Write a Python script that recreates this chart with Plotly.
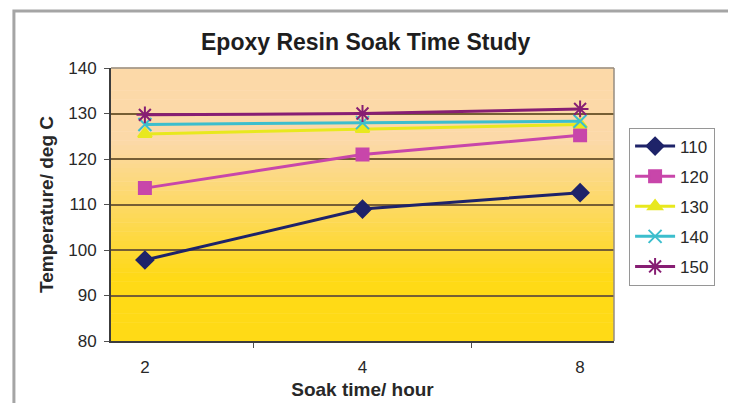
import plotly.graph_objects as go

# soak time categories (hours)
soak_time = ["2", "4", "8"]

# temperature reached for each oven setting (deg C)
temp_110 = [97.8, 109.0, 112.6]
temp_120 = [113.6, 121.0, 125.2]
temp_130 = [125.5, 126.6, 127.6]
temp_140 = [127.6, 128.0, 128.3]
temp_150 = [129.7, 130.0, 131.0]

series_names = ["110", "120", "130", "140", "150"]
series_values = [temp_110, temp_120, temp_130, temp_140, temp_150]

colors = ["rgb(30,35,105)", "rgb(200,70,170)", "rgb(232,232,30)",
          "rgb(60,190,205)", "rgb(135,30,115)"]
symbols = ["diamond", "square", "triangle-up", "x-thin-open", "asterisk-open"]
msizes = [13, 12, 12, 13, 14]

fig = go.Figure()

for i, name in enumerate(series_names):
    fig.add_trace(go.Scatter(
        x=soak_time,
        y=series_values[i],
        mode="lines+markers",
        name=name,
        legendgroup=name,
        line=dict(color=colors[i], width=3),
        marker=dict(symbol=symbols[i], size=msizes[i], color=colors[i],
                    line=dict(color=colors[i], width=2)),
    ))

# gradient plot background (peach at top -> yellow at bottom)
top = (252, 217, 168)
bottom = (255, 218, 22)
n = 60
for k in range(n):
    y0 = k / n
    y1 = (k + 1) / n
    t = min(1.0, max(0.0, (y0 - 0.22) / 0.5))
    c = tuple(int(bottom[j] + (top[j] - bottom[j]) * t) for j in range(3))
    fig.add_shape(type="rect", xref="x domain", yref="y domain",
                  x0=0, x1=1, y0=y0, y1=y1 + 0.002, layer="below",
                  line=dict(width=0), fillcolor="rgb(%d,%d,%d)" % c)

# top and right plot border
fig.add_shape(type="line", xref="paper", yref="paper", x0=0, x1=1, y0=1, y1=1,
              line=dict(color="rgb(150,140,130)", width=1.5))
fig.add_shape(type="line", xref="paper", yref="paper", x0=1, x1=1, y0=0, y1=1,
              line=dict(color="rgb(150,140,130)", width=1.5))

# outer chart frame
fig.add_shape(type="rect", xref="paper", yref="paper",
              x0=-0.193, x1=1.233, y0=-0.35, y1=1.209,
              line=dict(color="rgb(165,165,165)", width=3), fillcolor="rgba(0,0,0,0)")

fig.update_layout(
    width=736,
    height=403,
    margin=dict(l=103, r=130, t=60, b=70),
    paper_bgcolor="white",
    plot_bgcolor="rgba(0,0,0,0)",
    font=dict(family="Liberation Sans, Arial, sans-serif", size=17, color="rgb(40,40,40)"),
    title=dict(text="<b>Epoxy Resin Soak Time Study</b>", x=0.486, xanchor="center",
               y=0.916, yanchor="middle", font=dict(size=23, color="rgb(30,30,30)")),
    legend=dict(x=1.03, y=0.782, xanchor="left", yanchor="top",
                bgcolor="white", bordercolor="rgb(150,150,150)", borderwidth=1,
                tracegroupgap=5, traceorder="grouped",
                font=dict(size=17, color="rgb(40,40,40)"), itemwidth=40),
    showlegend=True,
)

fig.update_xaxes(
    type="category",
    tickson="boundaries",
    ticks="outside", ticklen=5, tickcolor="rgb(80,80,80)",
    ticklabelstandoff=10, tickfont=dict(size=17),
    showline=True, linecolor="rgb(60,60,60)", linewidth=2,
    showgrid=False,
    title=dict(text="<b>Soak time/ hour</b>", font=dict(size=19), standoff=6),
)
fig.update_yaxes(
    range=[80, 140], dtick=10,
    ticks="outside", ticklen=5, tickcolor="rgb(80,80,80)",
    ticklabelstandoff=4, tickfont=dict(size=17),
    showline=True, linecolor="rgb(60,60,60)", linewidth=2,
    showgrid=True, gridcolor="rgb(118,95,52)", gridwidth=2,
    zeroline=False,
    title=dict(text="<b>Temperature/ deg C</b>", font=dict(size=19), standoff=10),
)

fig.write_html("out.html")
